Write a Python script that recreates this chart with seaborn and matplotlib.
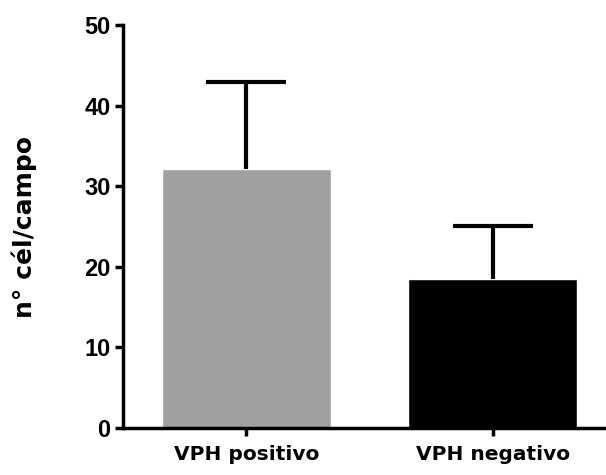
import numpy as np
import pandas as pd
import matplotlib
matplotlib.use("Agg")
import matplotlib.pyplot as plt
import seaborn as sns

groups = ["VPH positivo", "VPH negativo"]
means = [32.2, 18.5]
sems = [10.8, 6.6]
colors = ["#a0a0a3", "#000000"]

df = pd.DataFrame({"group": groups, "value": means})

sns.set_style("ticks")
plt.rcParams["font.family"] = ["Liberation Sans Narrow", "Liberation Sans", "DejaVu Sans"]
plt.rcParams["text.color"] = "black"
plt.rcParams["xtick.color"] = "black"
plt.rcParams["ytick.color"] = "black"
plt.rcParams["axes.labelcolor"] = "black"

fig = plt.figure(figsize=(6.06, 4.75), dpi=100)
ax = fig.add_axes([0.203, 0.099, 0.797, 0.848])

sns.barplot(data=df, x="group", y="value", hue="group", palette=colors,
            width=0.684, saturation=1, legend=False, ax=ax, errorbar=None)

# upper-only error bars, prism style
eb = ax.errorbar(range(len(groups)), means, yerr=[np.zeros(len(sems)), sems],
                 fmt="none", ecolor="black", elinewidth=3, capsize=29, capthick=3, zorder=3)
caps = eb[1]
caps[0].set_visible(False)  # drop the cap sitting on the bar top

ax.set_ylim(0, 50)
ax.set_xlim(-0.5, 1.46)
ax.set_yticks([0, 10, 20, 30, 40, 50])
ax.set_xlabel("")
ax.set_ylabel("n° cél/campo", fontsize=18, fontweight="bold",
              family=["DejaVu Sans"], labelpad=0)
ax.yaxis.set_label_coords(-0.178, 0.5)

sns.despine(ax=ax)
for s in ["left", "bottom"]:
    ax.spines[s].set_linewidth(2.5)
    ax.spines[s].set_color("black")
ax.tick_params(axis="both", width=2.5, length=6, color="black")
ax.tick_params(axis="y", labelsize=17, pad=3)
ax.tick_params(axis="x", labelsize=14.5, pad=6)
for lab in ax.get_yticklabels():
    lab.set_fontweight("bold")
for lab in ax.get_xticklabels():
    lab.set_fontweight("bold")
    lab.set_family(["DejaVu Sans"])

fig.savefig("out.png", dpi=100)
